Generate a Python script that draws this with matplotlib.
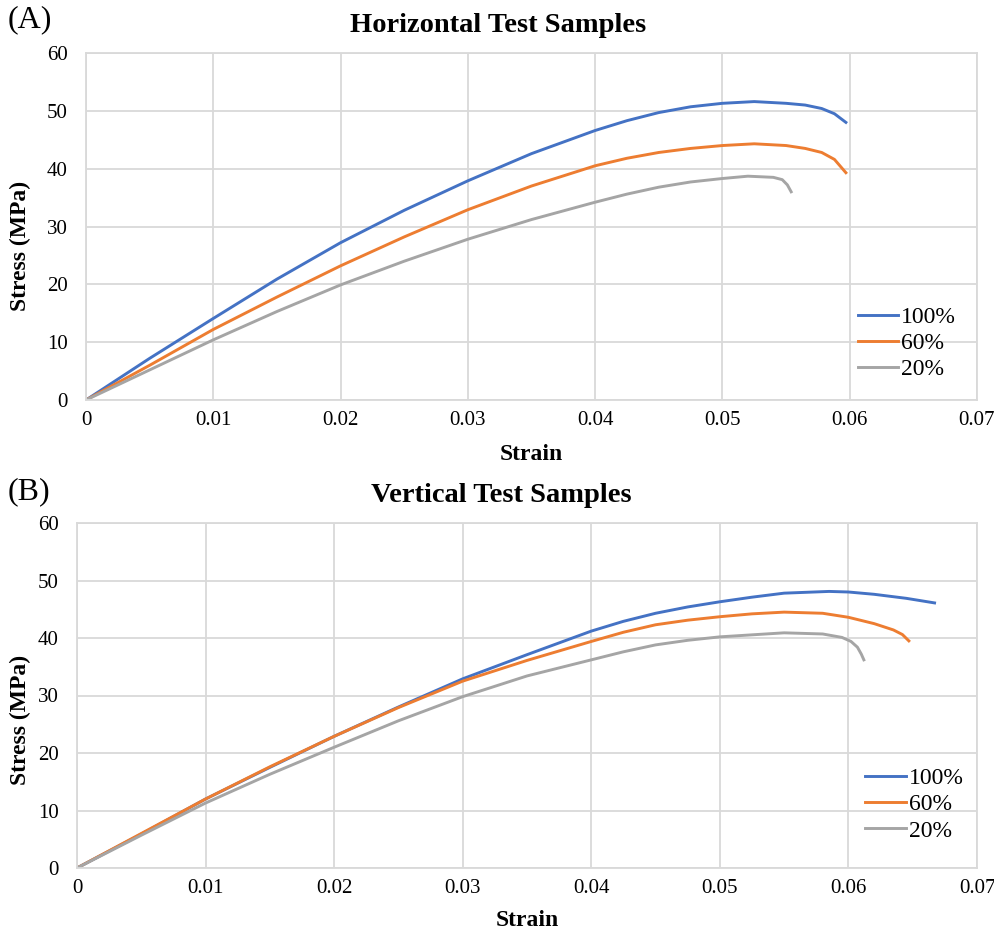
import matplotlib
matplotlib.use("Agg")
import matplotlib.pyplot as plt

plt.rcParams['font.family'] = ['Liberation Serif', 'DejaVu Serif']

labels = ["100%", "60%", "20%"]
colors = ["#4472C4", "#ED7D31", "#A5A5A5"]

# Horizontal samples
h_strain_100 = [0, 0.005, 0.01, 0.015, 0.02, 0.025, 0.03, 0.035, 0.04, 0.0425, 0.045, 0.0475, 0.05, 0.0525, 0.055, 0.0565, 0.0578, 0.0588, 0.0597]
h_stress_100 = [0, 7.2, 14.1, 20.9, 27.2, 32.8, 37.9, 42.6, 46.6, 48.3, 49.7, 50.7, 51.3, 51.6, 51.3, 51.0, 50.4, 49.5, 48.0]
h_strain_60 = [0, 0.005, 0.01, 0.015, 0.02, 0.025, 0.03, 0.035, 0.04, 0.0425, 0.045, 0.0475, 0.05, 0.0525, 0.055, 0.0565, 0.0578, 0.0588, 0.0597]
h_stress_60 = [0, 6.0, 12.2, 17.8, 23.2, 28.2, 32.9, 37.0, 40.5, 41.8, 42.8, 43.5, 44.0, 44.3, 44.0, 43.5, 42.8, 41.6, 39.3]
h_strain_20 = [0, 0.005, 0.01, 0.015, 0.02, 0.025, 0.03, 0.035, 0.04, 0.0425, 0.045, 0.0475, 0.05, 0.052, 0.054, 0.0547, 0.0551, 0.0554]
h_stress_20 = [0, 5.2, 10.4, 15.3, 19.9, 24.0, 27.8, 31.2, 34.2, 35.6, 36.8, 37.7, 38.3, 38.7, 38.5, 38.1, 37.2, 36.0]

# Vertical samples
v_strain_100 = [0, 0.005, 0.01, 0.015, 0.02, 0.025, 0.03, 0.035, 0.04, 0.0425, 0.045, 0.0475, 0.05, 0.0525, 0.055, 0.0585, 0.06, 0.062, 0.0645, 0.0667]
v_stress_100 = [0, 5.9, 12.0, 17.5, 22.9, 28.0, 32.9, 37.1, 41.2, 42.9, 44.3, 45.4, 46.3, 47.1, 47.8, 48.1, 48.0, 47.6, 46.9, 46.1]
v_strain_60 = [0, 0.005, 0.01, 0.015, 0.02, 0.025, 0.03, 0.035, 0.04, 0.0425, 0.045, 0.0475, 0.05, 0.0525, 0.055, 0.058, 0.06, 0.062, 0.0635, 0.0642, 0.0647]
v_stress_60 = [0, 6.0, 12.0, 17.6, 22.9, 27.9, 32.5, 36.1, 39.4, 41.0, 42.3, 43.1, 43.7, 44.2, 44.5, 44.3, 43.6, 42.5, 41.4, 40.6, 39.5]
v_strain_20 = [0, 0.005, 0.01, 0.015, 0.02, 0.025, 0.03, 0.035, 0.04, 0.0425, 0.045, 0.0475, 0.05, 0.055, 0.058, 0.0595, 0.0602, 0.0607, 0.061, 0.0612]
v_stress_20 = [0, 5.7, 11.3, 16.3, 21.0, 25.6, 29.8, 33.4, 36.2, 37.6, 38.8, 39.6, 40.2, 40.9, 40.7, 40.1, 39.4, 38.4, 37.2, 36.2]

x_ticks = [0, 0.01, 0.02, 0.03, 0.04, 0.05, 0.06, 0.07]
x_ticklabels = ["0", "0.01", "0.02", "0.03", "0.04", "0.05", "0.06", "0.07"]
y_ticks = [0, 10, 20, 30, 40, 50, 60]

fig = plt.figure(figsize=(9.95, 9.31), dpi=100)
ax1 = fig.add_axes([86/995, 1-400/931, 891/995, 347/931])
ax2 = fig.add_axes([77/995, 1-868/931, 900/995, 345/931])


def style(ax):
    ax.set_xlim(0, 0.07)
    ax.set_ylim(0, 60)
    ax.set_xticks(x_ticks)
    ax.set_xticklabels(x_ticklabels)
    ax.set_yticks(y_ticks)
    ax.grid(True, color="#D9D9D9", linewidth=1.3)
    ax.set_axisbelow(True)
    for s in ax.spines.values():
        s.set_color("#D9D9D9")
        s.set_linewidth(1.3)
    ax.tick_params(length=0, labelsize=15)
    ax.tick_params(axis='y', pad=13)
    ax.tick_params(axis='x', pad=8)


style(ax1)
ax1.plot(h_strain_100, h_stress_100, color=colors[0], lw=2.1, label=labels[0])
ax1.plot(h_strain_60, h_stress_60, color=colors[1], lw=2.1, label=labels[1])
ax1.plot(h_strain_20, h_stress_20, color=colors[2], lw=2.1, label=labels[2])
ax1.legend(loc='center left', bbox_to_anchor=(0.866, 0.163), frameon=False,
           fontsize=17, handlelength=1.7, handletextpad=0.15, labelspacing=0.2,
           borderpad=0, borderaxespad=0)

style(ax2)
ax2.plot(v_strain_100, v_stress_100, color=colors[0], lw=2.1, label=labels[0])
ax2.plot(v_strain_60, v_stress_60, color=colors[1], lw=2.1, label=labels[1])
ax2.plot(v_strain_20, v_stress_20, color=colors[2], lw=2.1, label=labels[2])
ax2.legend(loc='center left', bbox_to_anchor=(0.876, 0.184), frameon=False,
           fontsize=17, handlelength=1.7, handletextpad=0.15, labelspacing=0.2,
           borderpad=0, borderaxespad=0)

fig.text(8/995, 1-20/931, "(A)", fontsize=23, va='center', ha='left')
fig.text(498/995, 1-25/931, "Horizontal Test Samples", fontsize=20.5, fontweight='bold', ha='center', va='center')
fig.text(531/995, 1-455/931, "Strain", fontsize=17, fontweight='bold', ha='center', va='center')
fig.text(20/995, 1-246/931, "Stress (MPa)", fontsize=17, fontweight='bold', ha='center', va='center', rotation=90)

fig.text(8/995, 1-492/931, "(B)", fontsize=23, va='center', ha='left')
fig.text(501/995, 1-495/931, "Vertical Test Samples", fontsize=20.5, fontweight='bold', ha='center', va='center')
fig.text(527/995, 1-920/931, "Strain", fontsize=17, fontweight='bold', ha='center', va='center')
fig.text(20/995, 1-720/931, "Stress (MPa)", fontsize=17, fontweight='bold', ha='center', va='center', rotation=90)

fig.savefig("out.png", dpi=100)
